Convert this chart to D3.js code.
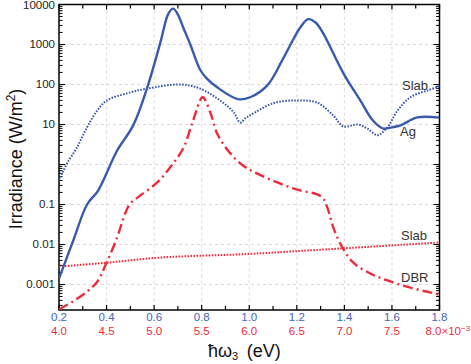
<!DOCTYPE html>
<html><head><meta charset="utf-8">
<script src="https://cdn.jsdelivr.net/npm/d3@7"></script>
<style>
html,body{margin:0;padding:0;background:#fff;}
svg{display:block;font-family:"Liberation Sans",Arial,sans-serif;}
</style></head>
<body>
<svg id="chart" width="471" height="364"></svg>
<script>
// ---- data ----
const agSlabX = [0.2,0.26,0.318,0.364,0.444,0.512,0.57,0.625,0.66,0.68,0.70,0.722,0.752,0.794,0.822,0.865,0.953,1.004,1.076,1.143,1.215,1.248,1.28,1.311,1.396,1.467,1.52,1.564,1.6,1.636,1.707,1.8];
const agSlabY = [0.0014,0.0126,0.1,0.22,2.2,9.5,80,1050,5900,7900,5600,2700,1000,230,140,85,43,48,95,450,2700,4300,3500,1900,190,40,12.6,7.9,8.5,9.5,15,14.8];

const agX = [0.2,0.213,0.234,0.276,0.318,0.36,0.402,0.486,0.571,0.709,0.794,0.89,0.935,0.962,0.985,1.004,1.101,1.2,1.286,1.354,1.396,1.455,1.497,1.539,1.581,1.623,1.678,1.749,1.8];
const agY = [0.4,0.59,1.07,2.7,8.5,22,40,60,79,100,79,35,20,11.2,14.5,17,34,40,35,16.6,8.9,10,7.9,5.4,8.5,22,48,71,89];

const dbrX = [0.2,0.26,0.32,0.36,0.398,0.444,0.478,0.499,0.541,0.613,0.67,0.722,0.764,0.804,0.836,0.867,0.92,0.975,1.034,1.118,1.202,1.286,1.311,1.33,1.354,1.392,1.438,1.51,1.581,1.678,1.8];
const dbrY = [0.00024,0.00038,0.00068,0.00115,0.0033,0.0148,0.059,0.105,0.166,0.355,0.89,2.5,12.6,48,20,5.6,1.9,0.93,0.59,0.355,0.234,0.178,0.141,0.079,0.026,0.0083,0.0035,0.00186,0.00126,0.00083,0.00056];

const dbrSlabX = [0.2,0.4,0.625,1.0,1.215,1.8];
const dbrSlabY = [0.0028,0.0035,0.0047,0.0058,0.0069,0.0112];

const xTicksBlue = ["0.2","0.4","0.6","0.8","1.0","1.2","1.4","1.6","1.8"];
const xTicksRed = ["4.0","4.5","5.0","5.5","6.0","6.5","7.0","7.5","8.0"];
const yTickVals = [10000,1000,100,10,0.1,0.01,0.001];
const yTickLabels = ["10000","1000","100","10","0.1","0.01","0.001"];

// ---- layout ----
const L=59, R=439.5, T=4.5, B=310;
const BLUE="#3a5aae", RED="#ee2b3b";
const svg=d3.select("#chart");
const x=d3.scaleLinear().domain([0.2,1.8]).range([L,R]);
const y=d3.scaleLog().domain([0.00023,10000]).range([B,T]);

// grid
const g=svg.append("g");
xTicksBlue.forEach((t,i)=>{ if(i>0&&i<8) g.append("line").attr("x1",x(+t)).attr("x2",x(+t)).attr("y1",T).attr("y2",B)
  .attr("stroke","#cfcfcf").attr("stroke-width",0.8).attr("stroke-dasharray","3,3");});
[1000,100,10,1,0.1,0.01,0.001].forEach(v=>{ g.append("line").attr("x1",L).attr("x2",R).attr("y1",y(v)).attr("y2",y(v))
  .attr("stroke","#cfcfcf").attr("stroke-width",0.8).attr("stroke-dasharray","3,3");});

// ticks
const tk=svg.append("g").attr("stroke","#000");
d3.range(2,19).forEach(k=>{ const v=k/10; const len=(k%2===0)?5:4;
  tk.append("line").attr("x1",x(v)).attr("x2",x(v)).attr("y1",B).attr("y2",B-len).attr("stroke-width",1.2);
  tk.append("line").attr("x1",x(v)).attr("x2",x(v)).attr("y1",T).attr("y2",T+len).attr("stroke-width",1.2);
});
for(let e=-4;e<=3;e++){ for(let m=1;m<=9;m++){ const v=m*Math.pow(10,e); if(v<0.00023||v>10000) continue;
  const len=(m===1)?6:3.5;
  tk.append("line").attr("x1",L).attr("x2",L+len).attr("y1",y(v)).attr("y2",y(v)).attr("stroke-width",1);
  tk.append("line").attr("x1",R).attr("x2",R-len).attr("y1",y(v)).attr("y2",y(v)).attr("stroke-width",1);
}}
svg.append("rect").attr("x",L).attr("y",T).attr("width",R-L).attr("height",B-T).attr("fill","none").attr("stroke","#000").attr("stroke-width",1.5);

// lines
const line=d3.line().x(d=>x(d[0])).y(d=>y(d[1])).curve(d3.curveCatmullRom.alpha(0.5));
svg.append("clipPath").attr("id","cp").append("rect").attr("x",L).attr("y",T).attr("width",R-L).attr("height",B-T);
const plot=svg.append("g").attr("clip-path","url(#cp)");
plot.append("path").datum(dbrSlabX.map((v,i)=>[v,dbrSlabY[i]])).attr("d",line).attr("fill","none")
  .attr("stroke",RED).attr("stroke-width",2).attr("stroke-dasharray","1.6,1.4");
plot.append("path").datum(dbrX.map((v,i)=>[v,dbrY[i]])).attr("d",line).attr("fill","none")
  .attr("stroke",RED).attr("stroke-width",2.4).attr("stroke-dasharray","10,4,2,4");
plot.append("path").datum(agX.map((v,i)=>[v,agY[i]])).attr("d",line).attr("fill","none")
  .attr("stroke",BLUE).attr("stroke-width",2).attr("stroke-dasharray","1.6,1.4");
plot.append("path").datum(agSlabX.map((v,i)=>[v,agSlabY[i]])).attr("d",line).attr("fill","none")
  .attr("stroke",BLUE).attr("stroke-width",2.4);

// y tick labels
yTickVals.forEach((v,i)=>{ svg.append("text").attr("x",55).attr("y",y(v)+4).attr("text-anchor","end")
  .attr("font-size",11.5).attr("fill","#222").text(yTickLabels[i]); });
// x tick labels
xTicksBlue.forEach((t,i)=>{ svg.append("text").attr("x",x(+t)).attr("y",321).attr("text-anchor","middle")
  .attr("font-size",11.5).attr("fill","#4565b8").text(t); });
xTicksRed.forEach((t,i)=>{ const xx=x(+xTicksBlue[i]);
  if(i<8){ svg.append("text").attr("x",xx).attr("y",334.5).attr("text-anchor","middle").attr("font-size",11.5).attr("fill",RED).text(t); }
  else { const tt=svg.append("text").attr("x",xx-14).attr("y",334.5).attr("font-size",11.5).attr("fill",RED);
    tt.append("tspan").text(t+"\u00d710");
    tt.append("tspan").attr("dy",-4).attr("font-size",8).text("\u22123"); }
});

// titles
const xt=svg.append("text").attr("x",208).attr("y",357).attr("font-size",18).attr("fill","#111");
xt.append("tspan").text("\u0127\u03c9");
xt.append("tspan").attr("dy",3).attr("font-size",11).text("3");
xt.append("tspan").attr("dy",-3).text("\u2009 (eV)");
const yt=svg.append("text").attr("transform","translate(22,159) rotate(-90)").attr("text-anchor","middle").attr("font-size",18).attr("fill","#111");
yt.append("tspan").text("Irradiance (W/m");
yt.append("tspan").attr("dy",-7).attr("font-size",12).text("2");
yt.append("tspan").attr("dy",7).text(")");

// annotations
[["Slab",402,90],["Ag",400,136],["Slab",401,240],["DBR",401,282]].forEach(a=>{
  svg.append("text").attr("x",a[1]).attr("y",a[2]).attr("font-size",13).attr("fill","#333").text(a[0]);});
</script>
</body></html>
